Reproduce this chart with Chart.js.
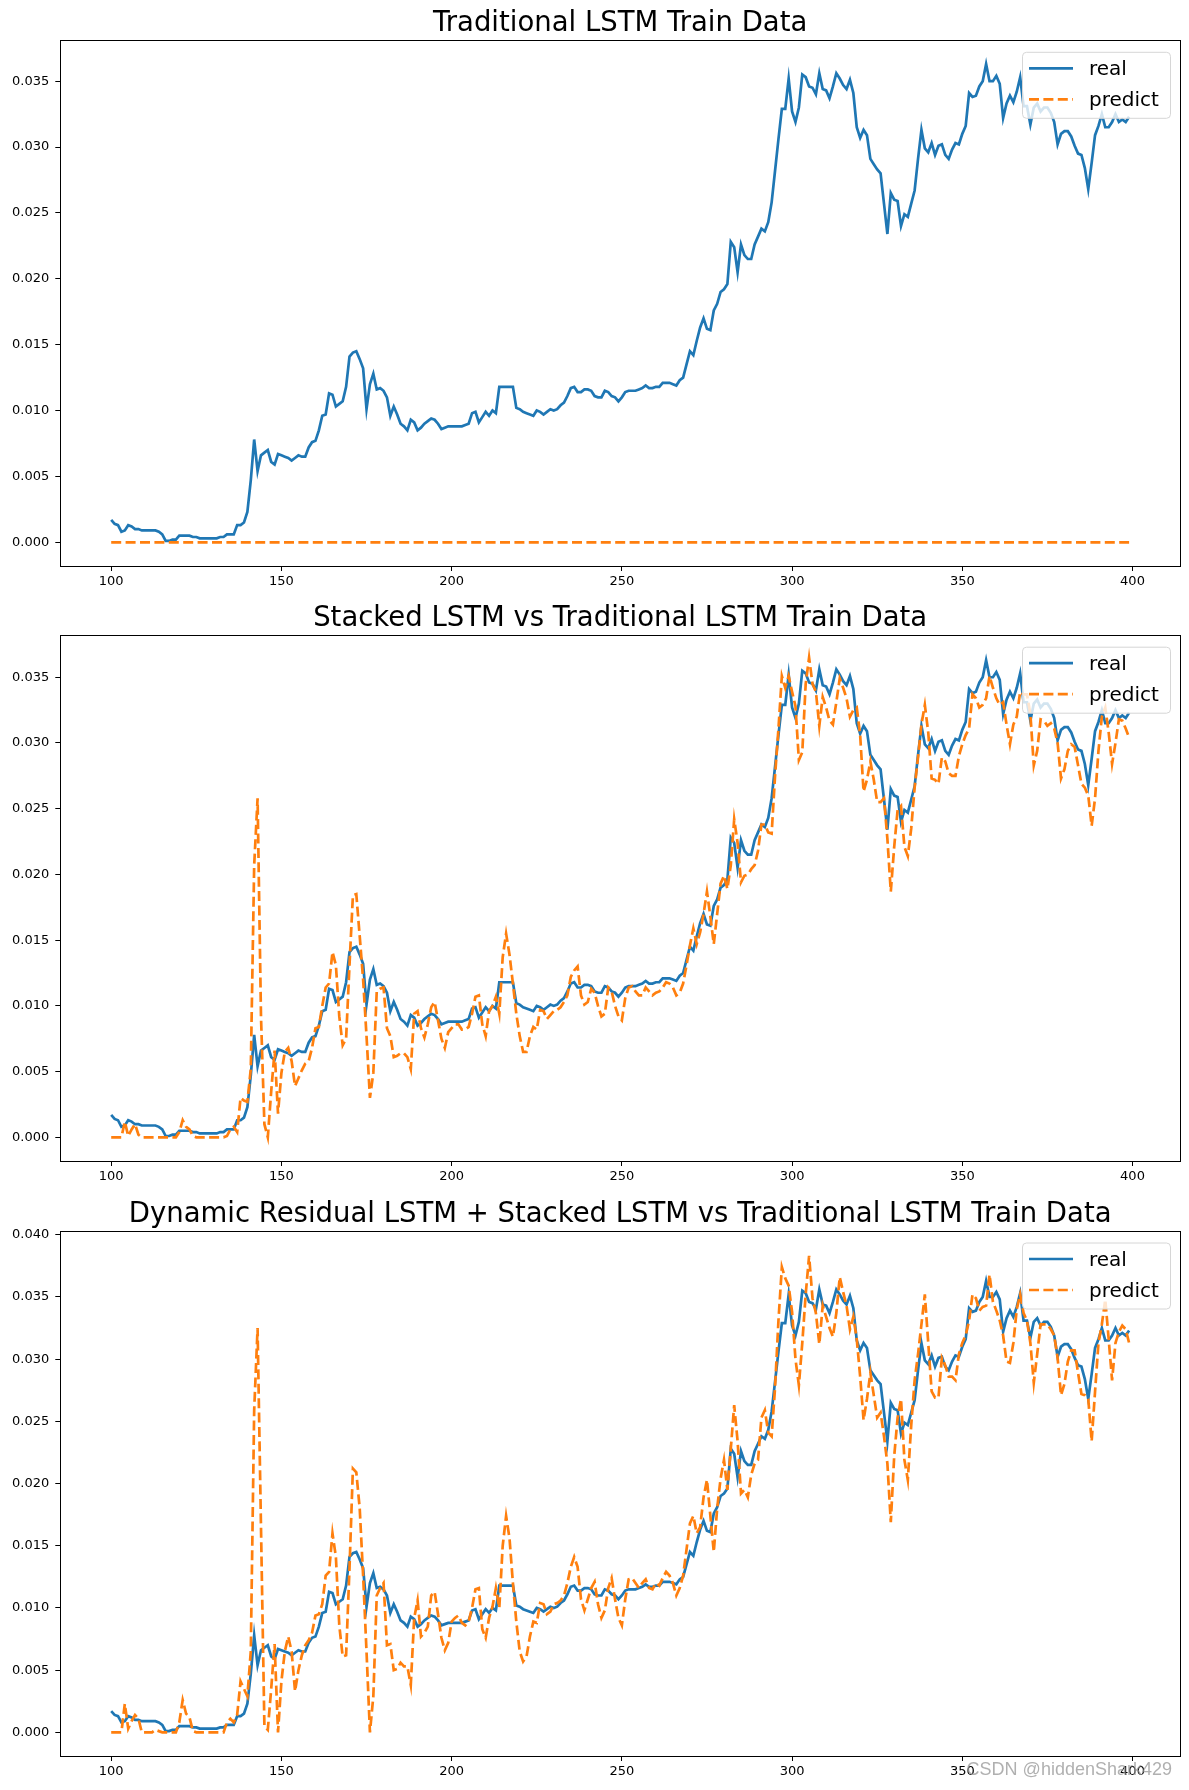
<!DOCTYPE html>
<html>
<head>
<meta charset="utf-8">
<script src="https://cdn.jsdelivr.net/npm/chart.js@4.4.0/dist/chart.umd.min.js"></script>
<style>
  body { margin: 0; background: #fff; }
  #page { position: relative; width: 1189px; height: 1790px; overflow: hidden; }
  #page canvas { position: absolute; left: 0; }
  #mark {
    position: absolute; right: 17px; top: 1760px;
    font: 18px/18px "Liberation Sans", Arial, sans-serif;
    color: rgba(150, 150, 150, 0.75); white-space: nowrap;
  }
</style>
</head>
<body>
<div id="page">
  <canvas id="plot1" width="1189" height="598" style="top:0px"></canvas>
  <canvas id="plot2" width="1189" height="596" style="top:598px"></canvas>
  <canvas id="plot3" width="1189" height="596" style="top:1194px"></canvas>
  <div id="mark">CSDN @hiddenShark429</div>
</div>
<script>
// x runs from 100 to 399, one value per step
const xStart = 100;
const xTicks = [100, 150, 200, 250, 300, 350, 400];
const yTicks = [0, 0.005, 0.010, 0.015, 0.020, 0.025, 0.030, 0.035];
const yTicks3 = [0, 0.005, 0.010, 0.015, 0.020, 0.025, 0.030, 0.035, 0.040];

const titles = [
  "Traditional LSTM Train Data",
  "Stacked LSTM vs Traditional LSTM Train Data",
  "Dynamic Residual LSTM + Stacked LSTM vs Traditional LSTM Train Data"
];

const realValues = [
  0.0017, 0.0014, 0.0013, 0.0008, 0.0009, 0.0013, 0.0012, 0.0010, 0.0010, 0.0009,
  0.0009, 0.0009, 0.0009, 0.0009, 0.0008, 0.0006, 0.0001, 0.0001, 0.0002, 0.0002,
  0.0005, 0.0005, 0.0005, 0.0005, 0.0004, 0.0004, 0.0003, 0.0003, 0.0003, 0.0003,
  0.0003, 0.0003, 0.0004, 0.0004, 0.0006, 0.0006, 0.0006, 0.0013, 0.0013, 0.0015,
  0.0023, 0.0047, 0.0078, 0.0054, 0.0066, 0.0068, 0.0070, 0.0061, 0.0059, 0.0067,
  0.0066, 0.0065, 0.0064, 0.0062, 0.0064, 0.0066, 0.0065, 0.0065, 0.0072, 0.0076,
  0.0077, 0.0085, 0.0096, 0.0097, 0.0113, 0.0112, 0.0103, 0.0105, 0.0107, 0.0118,
  0.0141, 0.0144, 0.0145, 0.0139, 0.0132, 0.0101, 0.0120, 0.0128, 0.0116, 0.0117,
  0.0115, 0.0110, 0.0096, 0.0103, 0.0097, 0.0090, 0.0088, 0.0085, 0.0093, 0.0091,
  0.0085, 0.0087, 0.0090, 0.0092, 0.0094, 0.0093, 0.0090, 0.0086, 0.0087, 0.0088,
  0.0088, 0.0088, 0.0088, 0.0088, 0.0089, 0.0090, 0.0098, 0.0099, 0.0091, 0.0095,
  0.0099, 0.0096, 0.0100, 0.0098, 0.0118, 0.0118, 0.0118, 0.0118, 0.0118, 0.0102,
  0.0101, 0.0099, 0.0098, 0.0097, 0.0096, 0.0100, 0.0099, 0.0097, 0.0099, 0.0101,
  0.0100, 0.0101, 0.0104, 0.0106, 0.0111, 0.0117, 0.0118, 0.0114, 0.0114, 0.0116,
  0.0116, 0.0115, 0.0111, 0.0110, 0.0110, 0.0115, 0.0114, 0.0111, 0.0110, 0.0107,
  0.0110, 0.0114, 0.0115, 0.0115, 0.0115, 0.0116, 0.0117, 0.0119, 0.0117, 0.0117,
  0.0118, 0.0118, 0.0121, 0.0121, 0.0121, 0.0120, 0.0119, 0.0123, 0.0125, 0.0135,
  0.0145, 0.0142, 0.0153, 0.0163, 0.0170, 0.0162, 0.0161, 0.0176, 0.0181, 0.0190,
  0.0192, 0.0196, 0.0228, 0.0224, 0.0205, 0.0226, 0.0218, 0.0215, 0.0215, 0.0226,
  0.0232, 0.0238, 0.0236, 0.0243, 0.0258, 0.0282, 0.0306, 0.0329, 0.0329, 0.0352,
  0.0327, 0.0319, 0.0330, 0.0355, 0.0353, 0.0346, 0.0345, 0.0340, 0.0356, 0.0344,
  0.0343, 0.0337, 0.0346, 0.0356, 0.0352, 0.0347, 0.0344, 0.0351, 0.0341, 0.0315,
  0.0307, 0.0313, 0.0309, 0.0291, 0.0287, 0.0283, 0.0280, 0.0257, 0.0234, 0.0265,
  0.0260, 0.0259, 0.0240, 0.0249, 0.0247, 0.0257, 0.0267, 0.0291, 0.0313, 0.0299,
  0.0296, 0.0303, 0.0294, 0.0301, 0.0302, 0.0294, 0.0291, 0.0298, 0.0303, 0.0302,
  0.0310, 0.0316, 0.0341, 0.0338, 0.0339, 0.0346, 0.0350, 0.0363, 0.0350, 0.0350,
  0.0354, 0.0348, 0.0322, 0.0333, 0.0339, 0.0334, 0.0342, 0.0353, 0.0331, 0.0331,
  0.0317, 0.0330, 0.0333, 0.0327, 0.0330, 0.0330, 0.0326, 0.0319, 0.0302, 0.0310,
  0.0312, 0.0312, 0.0308, 0.0301, 0.0295, 0.0294, 0.0284, 0.0268, 0.0288, 0.0309,
  0.0316, 0.0325, 0.0315, 0.0315, 0.0319, 0.0325, 0.0319, 0.0321, 0.0319, 0.0323
];

// the traditional model predicts zero everywhere
const traditionalPredict = [
  0, 0, 0, 0, 0, 0, 0, 0, 0, 0, 0, 0, 0, 0, 0, 0, 0, 0, 0, 0, 0, 0, 0, 0, 0, 0, 0, 0, 0, 0,
  0, 0, 0, 0, 0, 0, 0, 0, 0, 0, 0, 0, 0, 0, 0, 0, 0, 0, 0, 0, 0, 0, 0, 0, 0, 0, 0, 0, 0, 0,
  0, 0, 0, 0, 0, 0, 0, 0, 0, 0, 0, 0, 0, 0, 0, 0, 0, 0, 0, 0, 0, 0, 0, 0, 0, 0, 0, 0, 0, 0,
  0, 0, 0, 0, 0, 0, 0, 0, 0, 0, 0, 0, 0, 0, 0, 0, 0, 0, 0, 0, 0, 0, 0, 0, 0, 0, 0, 0, 0, 0,
  0, 0, 0, 0, 0, 0, 0, 0, 0, 0, 0, 0, 0, 0, 0, 0, 0, 0, 0, 0, 0, 0, 0, 0, 0, 0, 0, 0, 0, 0,
  0, 0, 0, 0, 0, 0, 0, 0, 0, 0, 0, 0, 0, 0, 0, 0, 0, 0, 0, 0, 0, 0, 0, 0, 0, 0, 0, 0, 0, 0,
  0, 0, 0, 0, 0, 0, 0, 0, 0, 0, 0, 0, 0, 0, 0, 0, 0, 0, 0, 0, 0, 0, 0, 0, 0, 0, 0, 0, 0, 0,
  0, 0, 0, 0, 0, 0, 0, 0, 0, 0, 0, 0, 0, 0, 0, 0, 0, 0, 0, 0, 0, 0, 0, 0, 0, 0, 0, 0, 0, 0,
  0, 0, 0, 0, 0, 0, 0, 0, 0, 0, 0, 0, 0, 0, 0, 0, 0, 0, 0, 0, 0, 0, 0, 0, 0, 0, 0, 0, 0, 0,
  0, 0, 0, 0, 0, 0, 0, 0, 0, 0, 0, 0, 0, 0, 0, 0, 0, 0, 0, 0, 0, 0, 0, 0, 0, 0, 0, 0, 0, 0
];

const stackedPredict = [
  0, 0, 0, 0, 0.0012, 0.0001, 0.0006, 0.0010, 0.0002, 0,
  0, 0, 0, 0, 0, 0, 0, 0, 0, 0,
  0.0004, 0.0013, 0.0008, 0.0006, 0.0001, 0, 0, 0, 0, 0,
  0, 0, 0, 0, 0.0001, 0.0006, 0.0008, 0.0004, 0.0030, 0.0028,
  0.0027, 0.0052, 0.0207, 0.0258, 0.0092, 0.0010, 0.0000, 0.0035, 0.0066, 0.0018,
  0.0049, 0.0065, 0.0068, 0.0058, 0.0039, 0.0045, 0.0051, 0.0056, 0.0058, 0.0068,
  0.0083, 0.0084, 0.0100, 0.0114, 0.0117, 0.0141, 0.0131, 0.0092, 0.0070, 0.0075,
  0.0131, 0.0184, 0.0185, 0.0153, 0.0120, 0.0077, 0.0030, 0.0049, 0.0111, 0.0113,
  0.0114, 0.0083, 0.0077, 0.0061, 0.0062, 0.0064, 0.0064, 0.0061, 0.0052, 0.0094,
  0.0096, 0.0083, 0.0076, 0.0086, 0.0099, 0.0103, 0.0089, 0.0075, 0.0068, 0.0080,
  0.0083, 0.0086, 0.0086, 0.0082, 0.0082, 0.0084, 0.0094, 0.0107, 0.0108, 0.0086,
  0.0077, 0.0096, 0.0100, 0.0107, 0.0094, 0.0137, 0.0155, 0.0139, 0.0117, 0.0094,
  0.0077, 0.0065, 0.0065, 0.0077, 0.0084, 0.0082, 0.0097, 0.0096, 0.0090, 0.0093,
  0.0096, 0.0097, 0.0099, 0.0103, 0.0108, 0.0122, 0.0127, 0.0130, 0.0108, 0.0101,
  0.0103, 0.0113, 0.0110, 0.0100, 0.0092, 0.0094, 0.0114, 0.0111, 0.0100, 0.0092,
  0.0089, 0.0106, 0.0114, 0.0115, 0.0111, 0.0108, 0.0108, 0.0114, 0.0111, 0.0108,
  0.0110, 0.0111, 0.0114, 0.0118, 0.0117, 0.0114, 0.0108, 0.0110, 0.0117, 0.0131,
  0.0146, 0.0159, 0.0147, 0.0156, 0.0170, 0.0187, 0.0168, 0.0147, 0.0170, 0.0193,
  0.0199, 0.0189, 0.0207, 0.0242, 0.0224, 0.0194, 0.0199, 0.0200, 0.0204, 0.0207,
  0.0218, 0.0238, 0.0238, 0.0232, 0.0231, 0.0275, 0.0311, 0.0351, 0.0342, 0.0351,
  0.0339, 0.0328, 0.0287, 0.0293, 0.0345, 0.0365, 0.0345, 0.0339, 0.0313, 0.0335,
  0.0327, 0.0317, 0.0314, 0.0331, 0.0349, 0.0342, 0.0334, 0.0320, 0.0325, 0.0327,
  0.0306, 0.0263, 0.0272, 0.0286, 0.0272, 0.0255, 0.0255, 0.0258, 0.0227, 0.0187,
  0.0221, 0.0249, 0.0252, 0.0221, 0.0214, 0.0235, 0.0266, 0.0289, 0.0314, 0.0329,
  0.0308, 0.0273, 0.0272, 0.0269, 0.0289, 0.0286, 0.0277, 0.0275, 0.0275, 0.0290,
  0.0299, 0.0306, 0.0311, 0.0337, 0.0334, 0.0327, 0.0329, 0.0334, 0.0351, 0.0342,
  0.0334, 0.0329, 0.0331, 0.0314, 0.0299, 0.0314, 0.0320, 0.0339, 0.0337, 0.0337,
  0.0322, 0.0283, 0.0294, 0.0318, 0.0317, 0.0313, 0.0315, 0.0311, 0.0300, 0.0273,
  0.0280, 0.0294, 0.0299, 0.0297, 0.0283, 0.0269, 0.0266, 0.0260, 0.0237, 0.0258,
  0.0294, 0.0320, 0.0327, 0.0308, 0.0284, 0.0300, 0.0318, 0.0317, 0.0311, 0.0304
];

const residualPredict = [
  0, 0, 0, 0, 0.0023, 0.0003, 0.0009, 0.0014, 0.0011, 0,
  0, 0, 0, 0.0002, 0.0001, 0, 0, 0, 0, 0,
  0.0008, 0.0026, 0.0015, 0.0012, 0.0001, 0, 0, 0, 0, 0,
  0, 0, 0, 0, 0.0008, 0.0011, 0.0008, 0.0014, 0.0041, 0.0035,
  0.0029, 0.0065, 0.0259, 0.0325, 0.0165, 0.0005, 0.0002, 0.0035, 0.0071, 0.0000,
  0.0041, 0.0065, 0.0077, 0.0065, 0.0033, 0.0050, 0.0062, 0.0070, 0.0074, 0.0080,
  0.0094, 0.0095, 0.0103, 0.0126, 0.0129, 0.0160, 0.0141, 0.0086, 0.0061, 0.0062,
  0.0132, 0.0212, 0.0209, 0.0180, 0.0126, 0.0065, 0.0000, 0.0029, 0.0110, 0.0116,
  0.0120, 0.0070, 0.0071, 0.0050, 0.0051, 0.0056, 0.0053, 0.0053, 0.0038, 0.0092,
  0.0106, 0.0077, 0.0080, 0.0085, 0.0110, 0.0113, 0.0095, 0.0076, 0.0066, 0.0072,
  0.0089, 0.0092, 0.0094, 0.0088, 0.0086, 0.0089, 0.0100, 0.0115, 0.0116, 0.0083,
  0.0076, 0.0092, 0.0101, 0.0116, 0.0100, 0.0150, 0.0174, 0.0156, 0.0120, 0.0089,
  0.0065, 0.0057, 0.0061, 0.0077, 0.0089, 0.0088, 0.0104, 0.0103, 0.0095, 0.0097,
  0.0103, 0.0104, 0.0106, 0.0110, 0.0120, 0.0133, 0.0141, 0.0133, 0.0107, 0.0098,
  0.0107, 0.0116, 0.0121, 0.0103, 0.0092, 0.0098, 0.0116, 0.0124, 0.0107, 0.0092,
  0.0086, 0.0107, 0.0123, 0.0124, 0.0120, 0.0116, 0.0120, 0.0123, 0.0116, 0.0115,
  0.0120, 0.0118, 0.0124, 0.0129, 0.0126, 0.0120, 0.0110, 0.0116, 0.0126, 0.0147,
  0.0168, 0.0174, 0.0160, 0.0165, 0.0189, 0.0203, 0.0174, 0.0145, 0.0180, 0.0204,
  0.0219, 0.0195, 0.0228, 0.0263, 0.0234, 0.0192, 0.0195, 0.0189, 0.0207, 0.0216,
  0.0219, 0.0253, 0.0259, 0.0241, 0.0238, 0.0277, 0.0331, 0.0374, 0.0365, 0.0359,
  0.0338, 0.0300, 0.0279, 0.0313, 0.0352, 0.0383, 0.0349, 0.0337, 0.0312, 0.0343,
  0.0334, 0.0325, 0.0318, 0.0337, 0.0366, 0.0354, 0.0343, 0.0324, 0.0334, 0.0316,
  0.0286, 0.0251, 0.0268, 0.0289, 0.0271, 0.0253, 0.0257, 0.0238, 0.0216, 0.0169,
  0.0222, 0.0253, 0.0268, 0.0219, 0.0203, 0.0247, 0.0283, 0.0304, 0.0328, 0.0352,
  0.0313, 0.0274, 0.0269, 0.0269, 0.0301, 0.0295, 0.0286, 0.0286, 0.0283, 0.0304,
  0.0313, 0.0319, 0.0331, 0.0352, 0.0349, 0.0339, 0.0342, 0.0343, 0.0368, 0.0346,
  0.0339, 0.0331, 0.0319, 0.0298, 0.0297, 0.0313, 0.0340, 0.0352, 0.0337, 0.0331,
  0.0313, 0.0281, 0.0304, 0.0328, 0.0328, 0.0328, 0.0324, 0.0319, 0.0301, 0.0271,
  0.0280, 0.0298, 0.0307, 0.0307, 0.0289, 0.0272, 0.0271, 0.0268, 0.0234, 0.0274,
  0.0313, 0.0328, 0.0348, 0.0316, 0.0283, 0.0313, 0.0322, 0.0327, 0.0324, 0.0313
];

const BLUE = "#1f77b4";
const ORANGE = "#ff7f0e";
const LINE_W = 2.7;
const DASH = [10, 4.4];

Chart.defaults.font.family = '"DejaVu Sans", sans-serif';
Chart.defaults.color = "#000";

const toPoints = (vals) => vals.map((v, i) => ({ x: xStart + i, y: v }));

// frame, title and legend box drawn matplotlib-style
const decor = {
  id: "decor",
  afterDraw(chart, args, opts) {
    const { ctx, chartArea: a } = chart;
    ctx.save();
    ctx.strokeStyle = "#000";
    ctx.lineWidth = 1;
    ctx.strokeRect(Math.round(a.left) + 0.5, Math.round(a.top) + 0.5,
      Math.round(a.right - a.left), Math.round(a.bottom - a.top));

    ctx.fillStyle = "#000";
    ctx.font = '27.5px "DejaVu Sans"';
    ctx.textAlign = "center";
    ctx.textBaseline = "alphabetic";
    ctx.fillText(opts.title, (a.left + a.right) / 2, a.top - 9);

    // legend
    const w = 148, h = 66;
    const bx = a.right - 10 - w, by = a.top + 11.5;
    ctx.beginPath();
    ctx.roundRect(bx + 0.5, by + 0.5, w, h, 4);
    ctx.fillStyle = "rgba(255,255,255,0.8)";
    ctx.fill();
    ctx.strokeStyle = "#d6d6d6";
    ctx.stroke();

    ctx.lineWidth = LINE_W;
    ctx.strokeStyle = BLUE;
    ctx.beginPath();
    ctx.moveTo(bx + 7, by + 16.5);
    ctx.lineTo(bx + 51, by + 16.5);
    ctx.stroke();
    ctx.strokeStyle = ORANGE;
    ctx.setLineDash(DASH);
    ctx.beginPath();
    ctx.moveTo(bx + 7, by + 47.5);
    ctx.lineTo(bx + 51, by + 47.5);
    ctx.stroke();
    ctx.setLineDash([]);

    ctx.fillStyle = "#000";
    ctx.font = '20px "DejaVu Sans"';
    ctx.textAlign = "left";
    ctx.fillText("real", bx + 67, by + 23.5);
    ctx.fillText("predict", bx + 67, by + 54);
    ctx.restore();
  }
};

function makePlot(id, title, predict, yMin, yMax, ticksY, padTop, axisH) {
  new Chart(document.getElementById(id), {
    type: "line",
    data: {
      datasets: [
        { label: "real", data: toPoints(realValues), borderColor: BLUE, borderWidth: LINE_W,
          pointRadius: 0, tension: 0, fill: false, order: 1 },
        { label: "predict", data: toPoints(predict), borderColor: ORANGE, borderWidth: LINE_W,
          borderDash: DASH, pointRadius: 0, tension: 0, fill: false, order: 0 }
      ]
    },
    options: {
      responsive: false,
      animation: false,
      events: [],
      layout: { padding: { top: padTop, right: 9, left: 0, bottom: 0 } },
      plugins: {
        legend: { display: false },
        title: { display: false },
        tooltip: { enabled: false },
        decor: { title: title }
      },
      scales: {
        x: {
          type: "linear", min: 85.05, max: 413.95,
          afterBuildTicks: (s) => { s.ticks = xTicks.map(v => ({ value: v })); },
          afterFit: (s) => { s.height = axisH; },
          ticks: { font: { size: 13 }, color: "#000", padding: 3, maxRotation: 0, autoSkip: false,
                   callback: v => String(v) },
          grid: { display: true, drawOnChartArea: false, drawTicks: true, tickLength: 5, color: "#000" },
          border: { display: false }
        },
        y: {
          type: "linear", min: yMin, max: yMax,
          afterBuildTicks: (s) => { s.ticks = ticksY.map(v => ({ value: v })); },
          afterFit: (s) => { s.width = 60.3; },
          ticks: { font: { size: 13 }, color: "#000", padding: 6, autoSkip: false,
                   callback: v => v.toFixed(3) },
          grid: { display: true, drawOnChartArea: false, drawTicks: true, tickLength: 5, color: "#000" },
          border: { display: false }
        }
      }
    },
    plugins: [decor]
  });
}

makePlot("plot1", titles[0], traditionalPredict, -0.0018, 0.0381, yTicks, 40.3, 32);
makePlot("plot2", titles[1], stackedPredict, -0.0018, 0.0382, yTicks, 37.2, 33);
makePlot("plot3", titles[2], residualPredict, -0.0019, 0.0403, yTicks3, 37, 34);
</script>
</body>
</html>
